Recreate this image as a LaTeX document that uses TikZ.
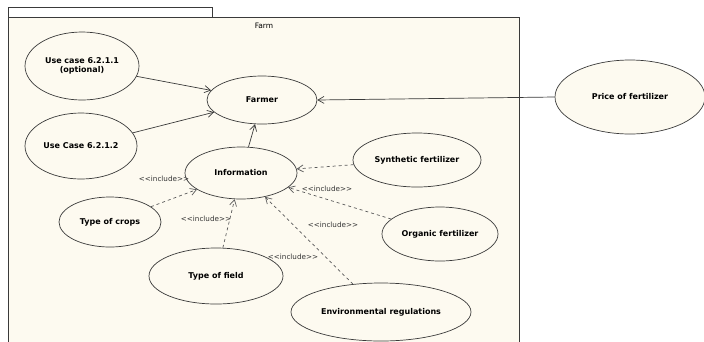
\documentclass[tikz,border=0pt]{standalone}
\usepackage{fontspec}
\setmainfont{DejaVu Sans}
\usetikzlibrary{shapes.geometric,arrows.meta}
\definecolor{paper}{HTML}{FDFAF0}
\definecolor{ink}{HTML}{3A3A3A}
\definecolor{dashink}{HTML}{5A5A5A}
\tikzset{
  usecase/.style={ellipse,draw=ink,fill=paper,line width=0.7pt,inner sep=0pt,
    font=\fontsize{8}{9.5}\selectfont\bfseries,align=center},
  assoc/.style={draw=ink,line width=0.7pt,-{Straight Barb[length=6pt,width=7pt]}},
  incl/.style={draw=dashink,line width=0.7pt,dash pattern=on 3pt off 3pt,
    -{Straight Barb[length=6pt,width=7pt]}},
  stereo/.style={font=\fontsize{7.2}{8}\selectfont,text=black!80,inner sep=0pt},
}
\begin{document}
\begin{tikzpicture}[x=1pt,y=-1pt]
\useasboundingbox (0,0) rectangle (704,341);
\clip (0,0) rectangle (704,341);
\fill[white] (0,0) rectangle (704,341);

% package frame with its tab
\draw[ink,line width=0.7pt] (8,17) -- (8,7) -- (212,7) -- (212,17);
\draw[ink,line width=0.7pt,fill=paper] (8,360) -- (8,17) -- (519,17) -- (519,360);
\node[font=\fontsize{7.5}{9}\selectfont] (farm) at (264,26) {Farm};

% use cases
\node[usecase,minimum width=114pt,minimum height=68pt] (uc1) at (82,66) {Use case 6.2.1.1\\(optional)};
\node[usecase,minimum width=112pt,minimum height=66pt] (uc2) at (81,146) {Use Case 6.2.1.2};
\node[usecase,minimum width=110pt,minimum height=48pt] (farmer) at (262,100) {Farmer};
\node[usecase,minimum width=112pt,minimum height=52pt] (info) at (241,173) {Information};
\node[usecase,minimum width=128pt,minimum height=54pt] (synth) at (417,160) {Synthetic fertilizer};
\node[usecase,minimum width=116pt,minimum height=54pt] (organic) at (440,234) {Organic fertilizer};
\node[usecase,minimum width=102pt,minimum height=50pt] (crops) at (110,222) {Type of crops};
\node[usecase,minimum width=134pt,minimum height=56pt] (field) at (216,276) {Type of field};
\node[usecase,minimum width=180pt,minimum height=58pt] (env) at (381,312) {Environmental regulations};
\node[usecase,minimum width=150pt,minimum height=74pt] (price) at (630,97) {Price of fertilizer};

% associations
\draw[assoc] (uc1) -- (farmer);
\draw[assoc] (uc2) -- (farmer);
\draw[assoc] (info) -- (farmer);
\draw[assoc] (price.west) -- (farmer.east);

% include relations
\draw[incl] (synth) -- (info);
\draw[incl] (organic) -- (info);
\draw[incl] (env) -- (info);
\draw[incl] (field) -- (info);
\draw[incl] (crops) -- (info);

% stereotype labels
\node[stereo] (l1) at (164,179) {<{}<include>{}>};
\node[stereo] (l2) at (206,219) {<{}<include>{}>};
\node[stereo] (l3) at (327,189) {<{}<include>{}>};
\node[stereo] (l4) at (333,225) {<{}<include>{}>};
\node[stereo] (l5) at (293,257) {<{}<include>{}>};
\end{tikzpicture}
\end{document}
